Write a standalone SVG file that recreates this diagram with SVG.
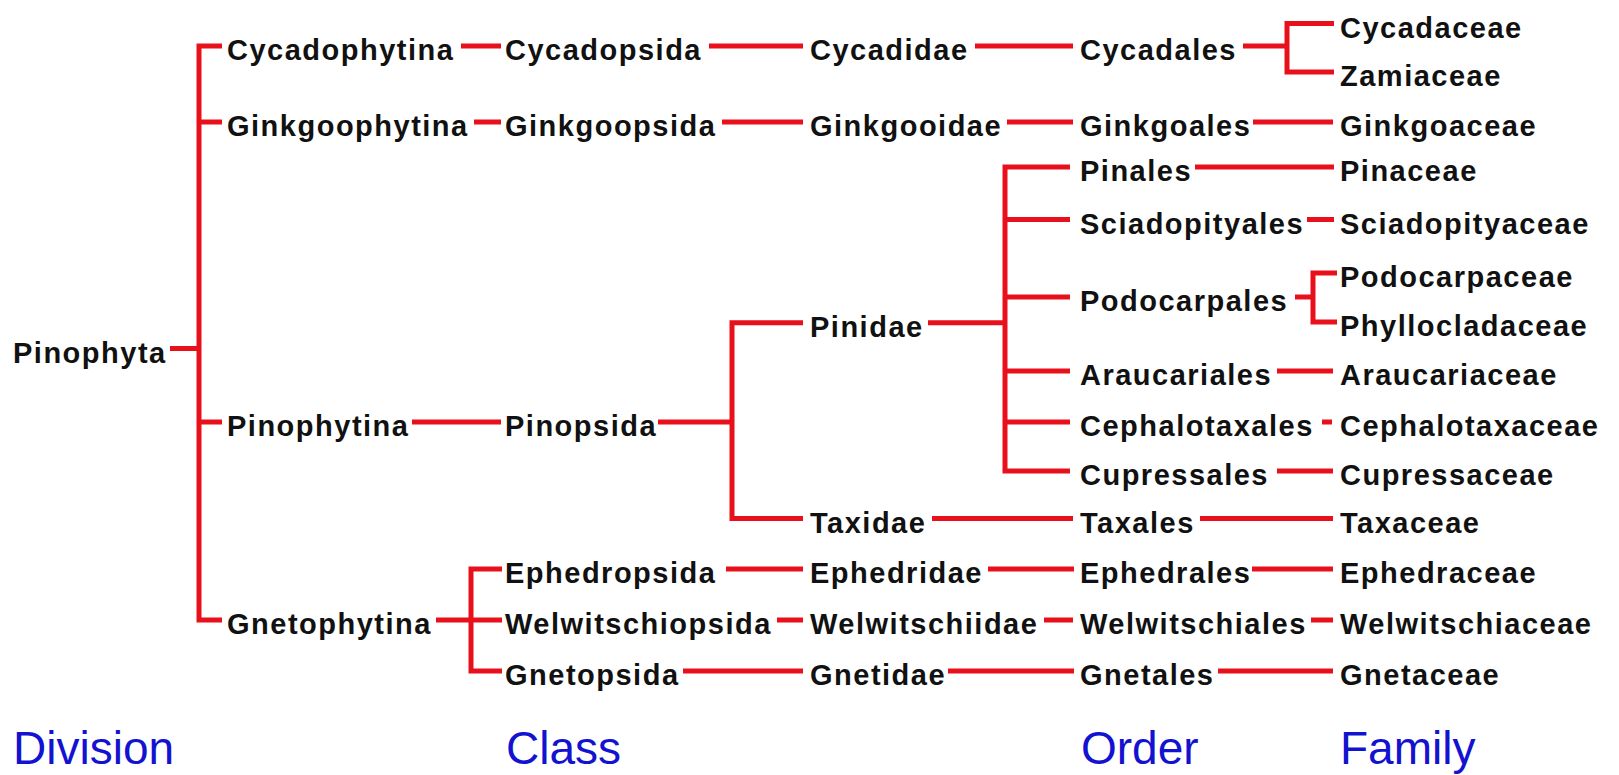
<svg xmlns="http://www.w3.org/2000/svg" width="1619" height="775" viewBox="0 0 1619 775">
<style>
.t{font-family:"Liberation Sans",Arial,sans-serif;font-size:29px;font-weight:bold;letter-spacing:1.5px;fill:#111}
.h{font-family:"Liberation Sans",Arial,sans-serif;font-size:46px;fill:#1212d0}
.c{stroke:#e8101a;stroke-width:5;fill:none;stroke-linejoin:miter}
</style>
<rect width="1619" height="775" fill="#fff"/>
<g id="connectors" class="c">
<path d="M170 348.5H199"/>
<path d="M222 46H199V620H222"/>
<path d="M199 122H222"/>
<path d="M199 422H222"/>
<path d="M461 46H501"/>
<path d="M474 122H501"/>
<path d="M412 422H501"/>
<path d="M436 620H502"/>
<path d="M502 569H471V671H502"/>
<path d="M709 46H803"/>
<path d="M722 122H803"/>
<path d="M658 422H732"/>
<path d="M803 322.7H732V518.5H803"/>
<path d="M726 569H803"/>
<path d="M777 620H803"/>
<path d="M683 671H803"/>
<path d="M975 46H1073"/>
<path d="M1007 122H1073"/>
<path d="M928 322.7H1005"/>
<path d="M1070 167H1005V471H1070"/>
<path d="M1005 219.5H1070"/>
<path d="M1005 297H1070"/>
<path d="M1005 371H1070"/>
<path d="M1005 422H1070"/>
<path d="M932 518.5H1073"/>
<path d="M988 569H1074"/>
<path d="M1044 620H1073"/>
<path d="M948 671H1074"/>
<path d="M1243 46H1287"/>
<path d="M1334 23.5H1287V72H1334"/>
<path d="M1253 122H1333"/>
<path d="M1195 167H1334"/>
<path d="M1307 219.5H1334"/>
<path d="M1295 297H1313"/>
<path d="M1337 273H1313V322H1337"/>
<path d="M1277 371H1333"/>
<path d="M1322 422H1332"/>
<path d="M1277 471H1333"/>
<path d="M1200 518.5H1333"/>
<path d="M1252 569H1333"/>
<path d="M1311 620H1333"/>
<path d="M1218 671H1333"/>
</g>
<g id="n-pinophyta"><text class="t" x="13" y="362.5">Pinophyta</text></g>
<g id="n-cycadophytina"><text class="t" x="227" y="60">Cycadophytina</text></g>
<g id="n-ginkgoophytina"><text class="t" x="227" y="136">Ginkgoophytina</text></g>
<g id="n-pinophytina"><text class="t" x="227" y="436">Pinophytina</text></g>
<g id="n-gnetophytina"><text class="t" x="227" y="634">Gnetophytina</text></g>
<g id="n-cycadopsida"><text class="t" x="505" y="60">Cycadopsida</text></g>
<g id="n-ginkgoopsida"><text class="t" x="505" y="136">Ginkgoopsida</text></g>
<g id="n-pinopsida"><text class="t" x="505" y="436">Pinopsida</text></g>
<g id="n-ephedropsida"><text class="t" x="505" y="583">Ephedropsida</text></g>
<g id="n-welwitschiopsida"><text class="t" x="505" y="634">Welwitschiopsida</text></g>
<g id="n-gnetopsida"><text class="t" x="505" y="685">Gnetopsida</text></g>
<g id="n-cycadidae"><text class="t" x="810" y="60">Cycadidae</text></g>
<g id="n-ginkgooidae"><text class="t" x="810" y="136">Ginkgooidae</text></g>
<g id="n-pinidae"><text class="t" x="810" y="336.7">Pinidae</text></g>
<g id="n-taxidae"><text class="t" x="810" y="532.5">Taxidae</text></g>
<g id="n-ephedridae"><text class="t" x="810" y="583">Ephedridae</text></g>
<g id="n-welwitschiidae"><text class="t" x="810" y="634">Welwitschiidae</text></g>
<g id="n-gnetidae"><text class="t" x="810" y="685">Gnetidae</text></g>
<g id="n-cycadales"><text class="t" x="1080" y="60">Cycadales</text></g>
<g id="n-ginkgoales"><text class="t" x="1080" y="136">Ginkgoales</text></g>
<g id="n-pinales"><text class="t" x="1080" y="181">Pinales</text></g>
<g id="n-sciadopityales"><text class="t" x="1080" y="233.5">Sciadopityales</text></g>
<g id="n-podocarpales"><text class="t" x="1080" y="311">Podocarpales</text></g>
<g id="n-araucariales"><text class="t" x="1080" y="385">Araucariales</text></g>
<g id="n-cephalotaxales"><text class="t" x="1080" y="436">Cephalotaxales</text></g>
<g id="n-cupressales"><text class="t" x="1080" y="485">Cupressales</text></g>
<g id="n-taxales"><text class="t" x="1080" y="532.5">Taxales</text></g>
<g id="n-ephedrales"><text class="t" x="1080" y="583">Ephedrales</text></g>
<g id="n-welwitschiales"><text class="t" x="1080" y="634">Welwitschiales</text></g>
<g id="n-gnetales"><text class="t" x="1080" y="685">Gnetales</text></g>
<g id="n-cycadaceae"><text class="t" x="1340" y="37.5">Cycadaceae</text></g>
<g id="n-zamiaceae"><text class="t" x="1340" y="86">Zamiaceae</text></g>
<g id="n-ginkgoaceae"><text class="t" x="1340" y="136">Ginkgoaceae</text></g>
<g id="n-pinaceae"><text class="t" x="1340" y="181">Pinaceae</text></g>
<g id="n-sciadopityaceae"><text class="t" x="1340" y="233.5">Sciadopityaceae</text></g>
<g id="n-podocarpaceae"><text class="t" x="1340" y="287">Podocarpaceae</text></g>
<g id="n-phyllocladaceae"><text class="t" x="1340" y="336">Phyllocladaceae</text></g>
<g id="n-araucariaceae"><text class="t" x="1340" y="385">Araucariaceae</text></g>
<g id="n-cephalotaxaceae"><text class="t" x="1340" y="436">Cephalotaxaceae</text></g>
<g id="n-cupressaceae"><text class="t" x="1340" y="485">Cupressaceae</text></g>
<g id="n-taxaceae"><text class="t" x="1340" y="532.5">Taxaceae</text></g>
<g id="n-ephedraceae"><text class="t" x="1340" y="583">Ephedraceae</text></g>
<g id="n-welwitschiaceae"><text class="t" x="1340" y="634">Welwitschiaceae</text></g>
<g id="n-gnetaceae"><text class="t" x="1340" y="685">Gnetaceae</text></g>
<g id="headings">
<text class="h" x="13" y="764">Division</text>
<text class="h" x="506" y="764">Class</text>
<text class="h" x="1081" y="764">Order</text>
<text class="h" x="1340" y="764">Family</text>
</g>
</svg>
